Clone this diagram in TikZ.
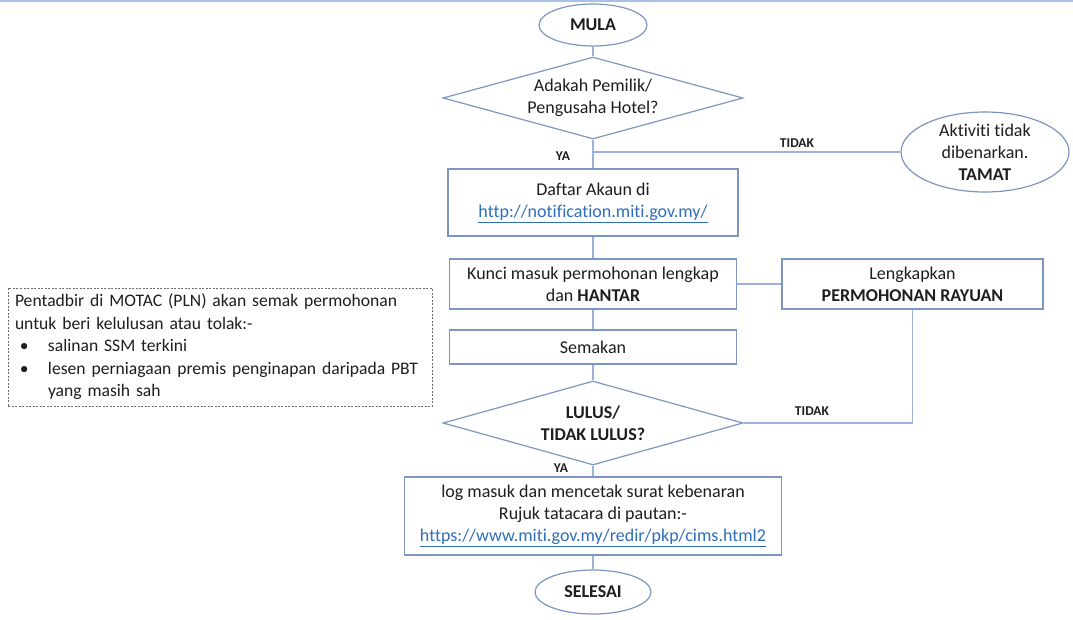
\documentclass[tikz,border=0pt]{standalone}
\usepackage{fontspec}
\setmainfont{Carlito}[Ligatures=NoCommon]
\usetikzlibrary{shapes.geometric}
\definecolor{shapeline}{HTML}{7D95C1}
\definecolor{connc}{HTML}{9DB2D8}
\definecolor{txt}{HTML}{1E1E1E}
\definecolor{linkc}{HTML}{2F6EBA}
\definecolor{topc}{HTML}{A8C0E6}
\definecolor{dashc}{HTML}{6E6E6E}
\newcommand{\lnk}[1]{\textcolor{linkc}{\underline{#1}}}
\newcommand{\bul}{\makebox[33pt][l]{\hspace*{5pt}•}}
\begin{document}
\begin{tikzpicture}[x=1pt,y=-1pt,
  every node/.style={text=txt, font=\fontsize{18}{22}\selectfont},
  boxnode/.style={draw=shapeline, line width=1.2pt, rectangle, align=center, inner sep=0pt, fill=white},
  termnode/.style={draw=shapeline, line width=1.2pt, ellipse, inner sep=0pt, fill=white},
  decnode/.style={draw=shapeline, line width=1.2pt, diamond, inner sep=0pt, align=center, fill=white},
  connline/.style={draw=connc, line width=1.2pt},
  edgelbl/.style={font=\fontsize{13.5}{15}\selectfont\bfseries, inner sep=0pt},
  boldtxt/.style={font=\fontsize{18}{22}\selectfont\bfseries},
  notebox/.style={draw=dashc, dash pattern=on 2pt off 1.5pt, line width=0.9pt, text width=410pt, inner xsep=7pt, inner ysep=3pt, minimum height=118pt, align=left, font=\fontsize{17.6}{22.5}\selectfont}
]
\useasboundingbox (0,0) rectangle (1073,619);
\draw[topc, line width=2pt] (0,1) -- (1073,1);

% nodes
\node[termnode, boldtxt, minimum width=108pt, minimum height=42pt] (mula) at (593,25) {MULA};
\node[decnode, minimum width=300pt, minimum height=82pt, aspect=3.66] (q1) at (593,98) {Adakah Pemilik/\\Pengusaha Hotel?};
\node[boxnode, minimum width=290pt, minimum height=67pt] (daftar) at (593,202.5) {Daftar Akaun di\\\lnk{http://notification.miti.gov.my/}};
\node[boxnode, minimum width=287pt, minimum height=50pt] (kunci) at (593,284) {Kunci masuk permohonan lengkap\\dan \textbf{HANTAR}};
\node[boxnode, minimum width=261pt, minimum height=50pt] (rayuan) at (912.5,284) {Lengkapkan\\\textbf{PERMOHONAN RAYUAN}};
\node[boxnode, minimum width=287pt, minimum height=34pt] (semak) at (593,347) {Semakan};
\node[decnode, boldtxt, minimum width=300pt, minimum height=84pt, aspect=3.57] (q2) at (593,423) {LULUS/\\TIDAK LULUS?};
\node[boxnode, minimum width=377pt, minimum height=78pt] (cetak) at (593,516) {log masuk dan mencetak surat kebenaran\\Rujuk tatacara di pautan:-\\\lnk{https://www.miti.gov.my/redir/pkp/cims.html2}};
\node[termnode, boldtxt, minimum width=116pt, minimum height=44pt] (selesai) at (593,592) {SELESAI};
\node[termnode, minimum width=168pt, minimum height=80pt] (tamat) at (985,152) {};
\node[align=center, inner sep=0pt] (tamattxt) at (tamat.center) {Aktiviti tidak\\dibenarkan.\\\textbf{TAMAT}};

\node[notebox] (note) at (220,347) {\mbox{Pentadbir di MOTAC (PLN) akan semak permohonan}\\\mbox{untuk beri kelulusan atau tolak:-}\\\mbox{\bul salinan SSM terkini}\\\mbox{\bul lesen perniagaan premis penginapan daripada PBT}\\\mbox{\hspace*{33pt}yang masih sah}};

% connectors
\coordinate (split) at (593,152);
\draw[connline] (mula) -- (q1);
\draw[connline] (q1) -- (daftar);
\draw[connline] (split) -- (tamat.west);
\draw[connline] (daftar) -- (kunci);
\draw[connline] (kunci) -- (rayuan);
\draw[connline] (kunci) -- (semak);
\draw[connline] (semak) -- (q2);
\draw[connline] (q2.east) -| (rayuan.south);
\draw[connline] (q2) -- (cetak);
\draw[connline] (cetak) -- (selesai);

% labels
\node[edgelbl] (ya1) at (563,156) {YA};
\node[edgelbl] (tidak1) at (797,143) {TIDAK};
\node[edgelbl] (tidak2) at (812,411) {TIDAK};
\node[edgelbl] (ya2) at (561,468) {YA};
\end{tikzpicture}
\end{document}
